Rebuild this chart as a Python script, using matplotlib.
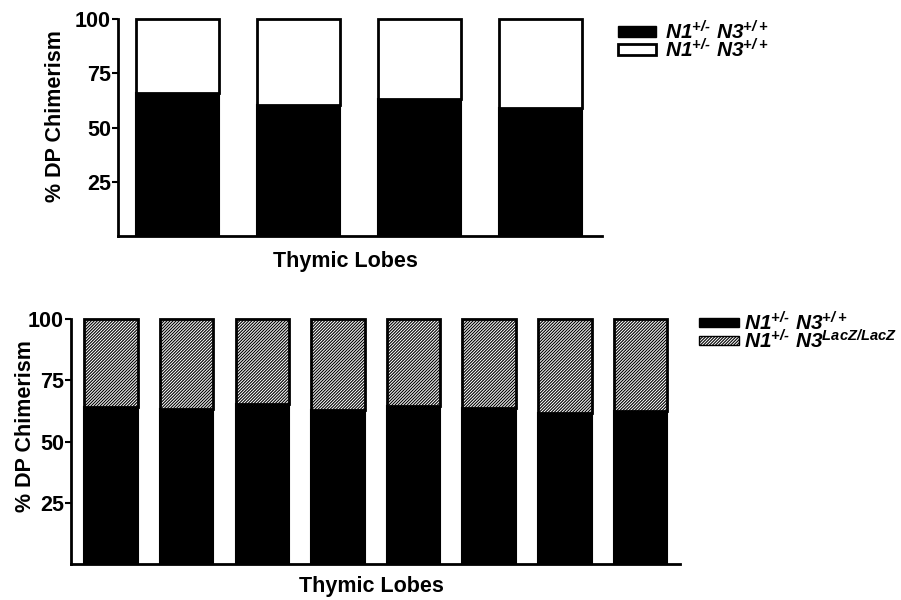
import numpy as np
import matplotlib.pyplot as plt
from matplotlib.patches import Patch

plt.rcParams['font.family'] = ['Liberation Sans', 'DejaVu Sans']
plt.rcParams['font.weight'] = 'bold'
plt.rcParams['mathtext.fontset'] = 'custom'
plt.rcParams['mathtext.rm'] = 'Liberation Sans'
plt.rcParams['mathtext.it'] = 'Liberation Sans:italic'
plt.rcParams['mathtext.bf'] = 'Liberation Sans:bold'
plt.rcParams['mathtext.bfit'] = 'Liberation Sans:italic:bold'
plt.rcParams['hatch.color'] = 'black'
plt.rcParams['hatch.linewidth'] = 0.8

# data (% DP chimerism per thymic lobe)
top_lobes = np.arange(4)
top_wt = [66.0, 60.4, 63.0, 58.8]
bottom_lobes = np.arange(8)
bottom_wt = [64.2, 63.3, 65.4, 62.7, 64.5, 63.5, 61.8, 62.6]
yticks = [25, 50, 75, 100]

label_wt = r'$\mathbfit{N1}^{\mathbfit{+/‐}}\ \mathbfit{N3}^{\mathbfit{+/+}}$'
label_lacz = r'$\mathbfit{N1}^{\mathbfit{+/‐}}\ \mathbfit{N3}^{\mathbfit{LacZ/LacZ}}$'
hatch = '/' * 11

W, H = 901, 600
fig = plt.figure(figsize=(W / 100, H / 100), dpi=100)


def make_axes(l, r, b, t):
    return fig.add_axes([l / W, 1 - b / H, (r - l) / W, (b - t) / H])


def style(ax, xlim, xlab_pos, ylab_pos):
    ax.set_ylim(0, 100)
    ax.set_xlim(*xlim)
    ax.set_yticks(yticks)
    ax.set_xticks([])
    for s in ['top', 'right']:
        ax.spines[s].set_visible(False)
    for s in ['left', 'bottom']:
        ax.spines[s].set_linewidth(2)
    ax.tick_params(axis='y', length=4, width=1.5, pad=1, labelsize=15.5)
    for lab in ax.get_yticklabels():
        lab.set_fontweight('bold')
    ax.set_ylabel('% DP Chimerism', fontsize=15.5, fontweight='bold')
    ax.set_xlabel('Thymic Lobes', fontsize=15.5, fontweight='bold')
    ax.yaxis.set_label_coords(*ylab_pos)
    ax.xaxis.set_label_coords(*xlab_pos)


# top panel
ax1 = make_axes(118, 602, 236, 19)
top_rest = [100 - v for v in top_wt]
ax1.bar(top_lobes, top_wt, width=0.686, color='black', edgecolor='black',
        linewidth=1.5, clip_on=False)
ax1.bar(top_lobes, top_rest, bottom=top_wt, width=0.686, color='white',
        edgecolor='black', linewidth=2, clip_on=False)
style(ax1, (-0.496, 3.512), (0.469, -0.07), (-0.108, 0.555))
ax1.legend(handles=[Patch(facecolor='black', edgecolor='black'),
                    Patch(facecolor='white', edgecolor='black', linewidth=2)],
           labels=[label_wt, label_wt], loc='upper left',
           bbox_to_anchor=(618 / W, 1 - 20 / H), bbox_transform=fig.transFigure,
           frameon=False, fontsize=15, handlelength=1.8, handleheight=0.45,
           handletextpad=0.45, labelspacing=-0.25, borderpad=0, borderaxespad=0)

# bottom panel
ax2 = make_axes(71, 680, 564, 319)
bottom_rest = [100 - v for v in bottom_wt]
ax2.bar(bottom_lobes, bottom_wt, width=0.707, color='black', edgecolor='black',
        linewidth=1.5, clip_on=False)
ax2.bar(bottom_lobes, bottom_rest, bottom=bottom_wt, width=0.707, color='white',
        edgecolor='black', hatch=hatch, linewidth=2, clip_on=False)
style(ax2, (-0.529, 7.522), (0.494, -0.05), (-0.058, 0.565))
ax2.legend(handles=[Patch(facecolor='black', edgecolor='black'),
                    Patch(facecolor='white', edgecolor='black', hatch=hatch)],
           labels=[label_wt, label_lacz], loc='upper left',
           bbox_to_anchor=(699 / W, 1 - 311 / H), bbox_transform=fig.transFigure,
           frameon=False, fontsize=15, handlelength=1.9, handleheight=0.3,
           handletextpad=0.25, labelspacing=-0.25, borderpad=0, borderaxespad=0)

fig.savefig('out.png', dpi=100)
